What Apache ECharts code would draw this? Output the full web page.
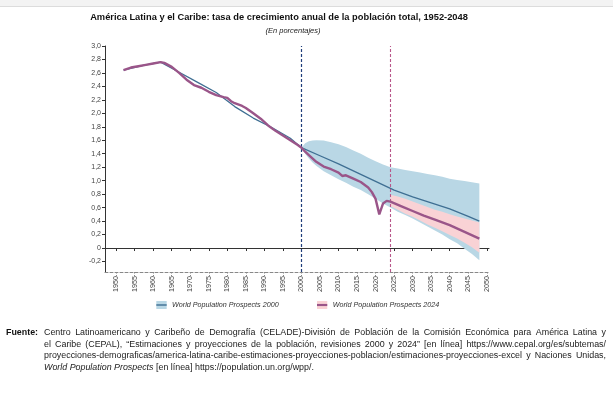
<!DOCTYPE html>
<html><head><meta charset="utf-8">
<script src="https://cdn.jsdelivr.net/npm/echarts@6/dist/echarts.min.js"></script>
<style>html,body{margin:0;padding:0;background:#fff}#c{width:613px;height:415px}</style>
</head><body><div id="c"></div>
<script>
// ---- data ----
const xTicks = [1950,1955,1960,1965,1970,1975,1980,1985,1990,1995,2000,2005,2010,2015,2020,2025,2030,2035,2040,2045,2050];
const yTicks = [-0.2,0,0.2,0.4,0.6,0.8,1.0,1.2,1.4,1.6,1.8,2.0,2.2,2.4,2.6,2.8,3.0];

const wpp2000Years  = [1952,1957,1962,1967,1972,1977,1982,1987,1992,1997,2000,2005,2010,2015,2020,2025,2030,2035,2040,2045,2048];
const wpp2000Values = [2.64,2.71,2.76,2.61,2.46,2.31,2.10,1.93,1.79,1.63,1.49,1.37,1.25,1.12,0.99,0.86,0.76,0.67,0.58,0.47,0.40];

const band2000Years = [2000,2001,2002,2003,2004,2006,2008,2010,2012,2014,2016,2018,2020,2022,2024,2026,2028,2030,2032,2034,2036,2038,2040,2042,2044,2046,2048];
const band2000Upper = [1.49,1.555,1.585,1.597,1.60,1.595,1.57,1.54,1.50,1.45,1.40,1.34,1.29,1.24,1.20,1.18,1.16,1.14,1.12,1.10,1.08,1.06,1.03,1.01,0.995,0.975,0.96];
const band2000Lower = [1.49,1.40,1.33,1.27,1.22,1.14,1.08,1.02,0.97,0.91,0.86,0.80,0.73,0.66,0.60,0.54,0.49,0.44,0.38,0.32,0.26,0.20,0.13,0.07,-0.01,-0.09,-0.18];

const wpp2024Years  = [1952,1954,1956,1958,1960,1962,1963,1965,1967,1969,1971,1973,1975,1977,1979,1980,1981,1982,1984,1985,1987,1989,1991,1993,1995,1997,1999,2000,2001,2002,2004,2006,2008,2010,2011,2012,2014,2016,2018,2019,2020,2021,2022,2023,2024,2027,2030,2033,2036,2040,2044,2048];
const wpp2024Values = [2.64,2.68,2.70,2.72,2.74,2.76,2.75,2.69,2.60,2.50,2.42,2.38,2.32,2.27,2.24,2.23,2.18,2.15,2.11,2.08,2.00,1.92,1.82,1.74,1.67,1.60,1.53,1.49,1.43,1.38,1.28,1.21,1.17,1.12,1.07,1.08,1.03,0.98,0.90,0.83,0.73,0.50,0.66,0.70,0.69,0.62,0.55,0.48,0.42,0.34,0.24,0.14];

const band2024Years = [2024,2026,2028,2030,2032,2034,2036,2038,2040,2042,2044,2046,2048];
const band2024Upper = [0.79,0.765,0.73,0.69,0.65,0.61,0.57,0.54,0.50,0.47,0.44,0.41,0.38];
const band2024Lower = [0.62,0.57,0.51,0.465,0.41,0.35,0.30,0.25,0.195,0.14,0.08,0.01,-0.07];

const legendNames = ['World Population Prospects 2000','World Population Prospects 2024'];
const titleText = 'América Latina y el Caribe: tasa de crecimiento anual de la población total, 1952-2048';
const subtitleText = '(En porcentajes)';
const sourceLines = [
  'Centro Latinoamericano y Caribeño de Demografía (CELADE)-División de Población de la Comisión Económica para América Latina y',
  'el Caribe (CEPAL), “Estimaciones y proyecciones de la población, revisiones 2000 y 2024” [en línea] https://www.cepal.org/es/subtemas/',
  'proyecciones-demograficas/america-latina-caribe-estimaciones-proyecciones-poblacion/estimaciones-proyecciones-excel y Naciones Unidas,'
];
const sourceLast = ['World Population Prospects', ' [en línea] https://population.un.org/wpp/.'];

// ---- build ----
const zip = (xs, ys) => xs.map((x, i) => [x, ys[i]]);

const C2000 = '#3f6f93', B2000 = '#b9d7e5';
const C2024 = '#9a5589', B2024 = '#f9d2d5';
const FONT = '"Liberation Sans", Arial, Helvetica, sans-serif';

function icon(bg, fg, lw) {
  const svg = "<svg xmlns='http://www.w3.org/2000/svg' width='12' height='9'><rect width='12' height='9' fill='" + bg + "'/><rect y='" + (4.5 - lw/2) + "' width='12' height='" + lw + "' fill='" + fg + "'/></svg>";
  return 'image://data:image/svg+xml;charset=utf-8,' + encodeURIComponent(svg);
}

function bandSeries(years, upper, lower, color, z) {
  return {
    type: 'custom', silent: true, z: z, clip: false,
    data: [[years[0], upper[0]]],
    renderItem: function (params, api) {
      const pts = [];
      for (let i = 0; i < years.length; i++) pts.push(api.coord([years[i], upper[i]]));
      for (let i = years.length - 1; i >= 0; i--) pts.push(api.coord([years[i], lower[i]]));
      return {type: 'polygon', shape: {points: pts}, style: {fill: color, stroke: null}};
    }
  };
}

// justified source text
const measureCtx = document.createElement('canvas').getContext('2d');
const SRC_SIZE = 8.9, SRC_X = 44, SRC_RIGHT = 606;
function justifiedLine(text, y) {
  const font = SRC_SIZE + 'px ' + FONT;
  measureCtx.font = font;
  const words = text.split(' ');
  const widths = words.map(w => measureCtx.measureText(w).width);
  const total = widths.reduce((a, b) => a + b, 0);
  const gap = (SRC_RIGHT - SRC_X - total) / (words.length - 1);
  const out = [];
  let x = SRC_X;
  words.forEach((w, i) => {
    out.push({type: 'text', x: x, y: y, silent: true, style: {text: w, font: font, fill: '#222', textVerticalAlign: 'middle'}});
    x += widths[i] + gap;
  });
  return out;
}

const grid = {left: 105, top: 46, width: 384, height: 226};
const yMin = -0.356, yMax = 3.0, xMin = 1947, xMax = 2050.6;

const graphics = [
  {type: 'rect', left: 0, top: 0, shape: {width: 613, height: 6}, style: {fill: '#f3f3f3'}, silent: true},
  {type: 'rect', left: 0, top: 6, shape: {width: 613, height: 1}, style: {fill: '#dcdcdc'}, silent: true},
  {type: 'text', x: 279, y: 17, style: {text: titleText, font: 'bold 9.3px ' + FONT, fill: '#111', textAlign: 'center', textVerticalAlign: 'middle'}},
  {type: 'text', x: 293, y: 31, style: {text: subtitleText, font: 'italic 7.5px ' + FONT, fill: '#222', textAlign: 'center', textVerticalAlign: 'middle'}},
  {type: 'text', x: 6, y: 333, style: {text: 'Fuente:', font: 'bold ' + SRC_SIZE + 'px ' + FONT, fill: '#111', textVerticalAlign: 'middle'}}
];
graphics.push(...justifiedLine(sourceLines[0], 333));
graphics.push(...justifiedLine(sourceLines[1], 344.5));
graphics.push(...justifiedLine(sourceLines[2], 356));
graphics.push({type: 'text', x: SRC_X, y: 367.5, style: {
  text: '{i|' + sourceLast[0] + '}{n|' + sourceLast[1] + '}', textVerticalAlign: 'middle',
  rich: {i: {font: 'italic ' + SRC_SIZE + 'px ' + FONT, fill: '#222'}, n: {font: SRC_SIZE + 'px ' + FONT, fill: '#222'}}}});

const chart = echarts.init(document.getElementById('c'), null, {renderer: 'canvas'});
chart.setOption({
  animation: false,
  backgroundColor: '#fff',
  textStyle: {fontFamily: FONT},
  grid: [Object.assign({}, grid), Object.assign({}, grid)],
  xAxis: [
    {type: 'value', gridIndex: 0, min: xMin, max: xMax,
     axisLine: {onZero: false, lineStyle: {color: '#888', type: [3, 2], width: 1}},
     axisTick: {customValues: xTicks, length: 4, lineStyle: {color: '#888', type: [1.5, 1.5]}},
     axisLabel: {customValues: xTicks, rotate: 90, fontSize: 7.2, color: '#444', margin: 4, fontFamily: FONT,
       formatter: v => String(Math.round(v))},
     splitLine: {show: false}},
    {type: 'value', gridIndex: 1, min: xMin, max: xMax,
     axisLine: {onZero: true, lineStyle: {color: '#333', width: 1}},
     axisTick: {customValues: xTicks, length: 3, lineStyle: {color: '#333'}},
     axisLabel: {show: false}, splitLine: {show: false}}
  ],
  yAxis: [
    {type: 'value', gridIndex: 0, min: yMin, max: yMax,
     axisLine: {show: true, lineStyle: {color: '#333', width: 1}},
     axisTick: {show: true, customValues: yTicks, length: 3, lineStyle: {color: '#333'}},
     axisLabel: {customValues: yTicks, fontSize: 7, color: '#444', margin: 4, fontFamily: FONT,
       formatter: v => Math.abs(v) < 1e-9 ? '0' : v.toFixed(1).replace('.', ',')},
     splitLine: {show: false}},
    {type: 'value', gridIndex: 1, min: yMin, max: yMax, show: false}
  ],
  legend: {
    left: 156, top: 301, padding: 0, itemGap: 38, itemWidth: 11, itemHeight: 8,
    textStyle: {fontSize: 7.2, fontStyle: 'italic', color: '#333', fontFamily: FONT},
    selectedMode: false,
    data: [
      {name: legendNames[0], icon: icon(B2000, C2000, 1.6)},
      {name: legendNames[1], icon: icon(B2024, C2024, 2.4)}
    ]
  },
  series: [
    bandSeries(band2000Years, band2000Upper, band2000Lower, B2000, 1),
    bandSeries(band2024Years, band2024Upper, band2024Lower, B2024, 2),
    {type: 'line', name: legendNames[0], data: zip(wpp2000Years, wpp2000Values), symbol: 'none',
     lineStyle: {color: C2000, width: 1.3}, itemStyle: {color: C2000}, z: 4,
     markLine: {silent: true, symbol: ['none', 'none'], label: {show: false},
       lineStyle: {color: '#1f3d7a', type: [3, 2], width: 1.2}, data: [{xAxis: 2000}]}},
    {type: 'line', name: legendNames[1], data: zip(wpp2024Years, wpp2024Values), symbol: 'none',
     lineStyle: {color: C2024, width: 2.4}, itemStyle: {color: C2024}, z: 5,
     markLine: {silent: true, symbol: ['none', 'none'], label: {show: false},
       lineStyle: {color: '#b8578a', type: [3, 2], width: 1.1}, data: [{xAxis: 2024}]}}
  ],
  graphic: graphics
});
</script></body></html>
